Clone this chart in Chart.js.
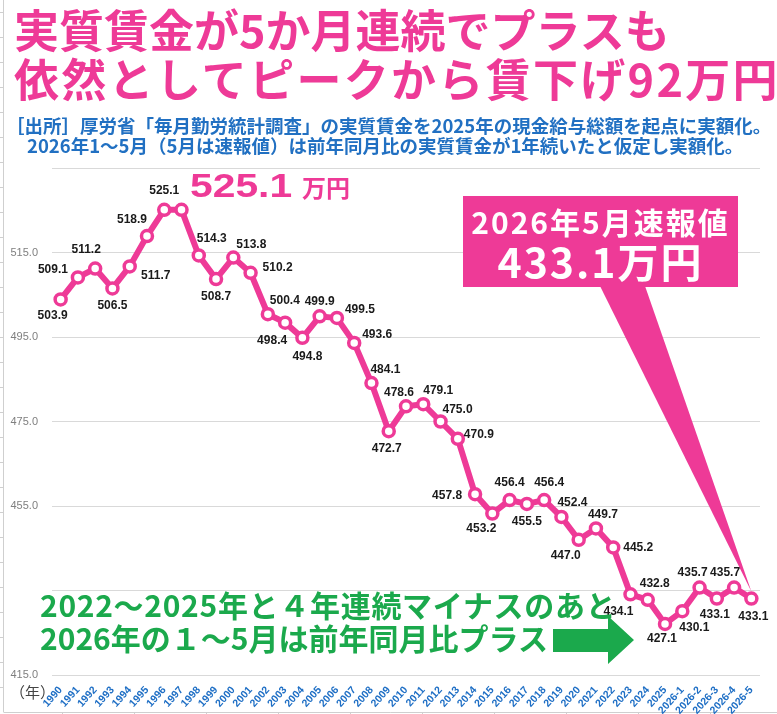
<!DOCTYPE html>
<html lang="ja">
<head>
<meta charset="utf-8">
<title>実質賃金</title>
<script src="https://cdn.jsdelivr.net/npm/chart.js@4.4.1/dist/chart.umd.min.js"></script>
<style>
    body { margin: 0; background: #fff; }
    #wrap { position: relative; width: 777px; height: 714px; overflow: hidden; font-family: "Noto Sans CJK JP", sans-serif; }
    #wageChart { position: absolute; left: 0; top: 0; }
    .txt { position: absolute; white-space: nowrap; font-weight: bold; }
    .title { left: 14px; font-size: 45px; line-height: 45px; color: #ee3a97; }
    .source { font-size: 18.5px; line-height: 19px; color: #2170c2; }
    .peak { left: 190px; top: 168px; font-family: "Liberation Sans", Arial, sans-serif; font-size: 34px; line-height: 34px; color: #ee3a97; transform: scaleX(1.2); transform-origin: left center; }
    .peak-unit { left: 302px; top: 175px; font-size: 24px; line-height: 24px; color: #ee3a97; }
    .callout { left: 463px; width: 275px; text-align: center; color: #fff; }
    .note { left: 40px; font-size: 30px; line-height: 30px; color: #1ba94c; }
    .year-unit { left: 10px; top: 684px; font-size: 15px; line-height: 16px; color: #444; font-weight: normal; }
</style>
</head>
<body>
<div id="wrap">
    <canvas id="wageChart" width="777" height="714"></canvas>
    <div class="txt title" style="top:6px">実質賃金が5か月連続でプラスも</div>
    <div class="txt title" style="top:55px;letter-spacing:2.3px">依然としてピークから賃下げ92万円</div>
    <div class="txt source" style="left:6px;top:116px">［出所］厚労省「毎月勤労統計調査」の実質賃金を2025年の現金給与総額を起点に実額化。</div>
    <div class="txt source" style="left:27px;top:136px">2026年1～5月（5月は速報値）は前年同月比の実質賃金が1年続いたと仮定し実額化。</div>
    <div class="txt peak">525.1</div>
    <div class="txt peak-unit">万円</div>
    <div class="txt callout" style="top:204px;font-size:30px;line-height:34px;letter-spacing:2px">2026年5月速報値</div>
    <div class="txt callout" style="top:238px;font-size:41px;line-height:44px;letter-spacing:2px">433.1万円</div>
    <div class="txt note" style="top:589px;letter-spacing:0.7px">2022～2025年と４年連続マイナスのあと</div>
    <div class="txt note" style="top:622px">2026年の１～5月は前年同月比プラス</div>
    <div class="txt year-unit">（年）</div>
</div>
<script>
// categories
const years = [
    '1990', '1991', '1992', '1993', '1994', '1995', '1996', '1997', '1998', '1999',
    '2000', '2001', '2002', '2003', '2004', '2005', '2006', '2007', '2008', '2009',
    '2010', '2011', '2012', '2013', '2014', '2015', '2016', '2017', '2018', '2019',
    '2020', '2021', '2022', '2023', '2024', '2025',
    '2026-1', '2026-2', '2026-3', '2026-4', '2026-5'
];

// 実質賃金（万円）
const realWages = [
    503.9, 509.1, 511.2, 506.5, 511.7, 518.9, 525.1, 525.1, 514.3, 508.7,
    513.8, 510.2, 500.4, 498.4, 494.8, 499.9, 499.5, 493.6, 484.1, 472.7,
    478.6, 479.1, 475.0, 470.9, 457.8, 453.2, 456.4, 455.5, 456.4, 452.4,
    447.0, 449.7, 445.2, 434.1, 432.8, 427.1,
    430.1, 435.7, 433.1, 435.7, 433.1
];

// y axis
const yMin = 415;
const yMax = 535;
const yStep = 20;
const hiddenYLabels = [435, 535];

// where each value label sits, relative to its point (null = no label)
const labelOffsets = [
    [-8, 16], [-25, -8], [-9, -19], [0, 17], [26, 9], [-15, -16], [0, -19], null, [13, -17], [0, 18],
    [18, -13], [27, -5], [17, -13], [-13, 18], [5, 19], [0, -15], [23, -8], [23, -8], [14, -13], [-2, 17],
    [-7, -14], [15, -13], [17, -12], [21, -4], [-28, 2], [-11, 15], [0, -17], [0, 18], [5, -17], [11, -14],
    [-13, 16], [7, -14], [25, 0], [-12, 17], [7, -16], [-3, 15],
    [12, 16], [-7, -15], [-2, 16], [-9, -15], [2, 18]
];

const PINK = '#ee3a97';
const GREEN = '#1ba94c';

document.addEventListener('DOMContentLoaded', () => {
    Chart.defaults.font.family = "'Liberation Sans', Arial, sans-serif";

    // faint ruler frame on the left and bottom edges
    const rulerFrame = {
        id: 'rulerFrame',
        beforeDraw(chart) {
            const c = chart.ctx;
            c.save();
            c.strokeStyle = '#cfcfcf';
            c.lineWidth = 1;
            c.beginPath();
            c.moveTo(3.5, 0);
            c.lineTo(3.5, 712);
            c.moveTo(3.5, 712.5);
            c.lineTo(777, 712.5);
            for (let y = 12; y < 712; y += 25) {
                c.moveTo(0, y + 0.5);
                c.lineTo(3.5, y + 0.5);
            }
            for (let x = 62; x < 777; x += 72) {
                c.moveTo(x + 0.5, 712);
                c.lineTo(x + 0.5, 714);
            }
            c.stroke();
            c.restore();
        }
    };

    // pink callout box pointing at the latest value, plus the green arrow
    const annotations = {
        id: 'annotations',
        beforeDatasetsDraw(chart) {
            const c = chart.ctx;
            const pts = chart.getDatasetMeta(0).data;
            const last = pts[pts.length - 1];
            c.save();
            c.fillStyle = PINK;
            c.fillRect(463, 196, 275, 91);
            c.beginPath();
            c.moveTo(600, 286);
            c.lineTo(645, 286);
            c.lineTo(last.x, last.y - 7);
            c.closePath();
            c.fill();

            c.fillStyle = GREEN;
            c.beginPath();
            c.moveTo(553, 629);
            c.lineTo(608, 629);
            c.lineTo(608, 616);
            c.lineTo(634, 640);
            c.lineTo(608, 664);
            c.lineTo(608, 652);
            c.lineTo(553, 652);
            c.closePath();
            c.fill();
            c.restore();
        }
    };

    // value labels next to each point
    const valueLabels = {
        id: 'valueLabels',
        afterDatasetsDraw(chart) {
            const c = chart.ctx;
            const pts = chart.getDatasetMeta(0).data;
            c.save();
            c.font = "bold 12px 'Liberation Sans', Arial, sans-serif";
            c.fillStyle = '#1a1a1a';
            c.textAlign = 'center';
            c.textBaseline = 'middle';
            pts.forEach((p, i) => {
                const off = labelOffsets[i];
                if (!off) return;
                c.fillText(realWages[i].toFixed(1), p.x + off[0], p.y + off[1]);
            });
            c.restore();
        }
    };

    const ctx = document.getElementById('wageChart').getContext('2d');
    new Chart(ctx, {
        type: 'line',
        data: {
            labels: years,
            datasets: [{
                data: realWages,
                borderColor: PINK,
                borderWidth: 6,
                pointRadius: 5.5,
                pointBorderWidth: 3.5,
                pointBackgroundColor: '#fff',
                pointBorderColor: PINK,
                tension: 0,
                clip: false
            }]
        },
        options: {
            responsive: false,
            animation: false,
            devicePixelRatio: 1,
            layout: { padding: { top: 168, right: 17, left: 0, bottom: 0 } },
            plugins: {
                legend: { display: false },
                tooltip: { enabled: false }
            },
            scales: {
                x: {
                    offset: true,
                    grid: { display: false },
                    border: { display: false },
                    ticks: {
                        autoSkip: false,
                        minRotation: 48,
                        maxRotation: 48,
                        padding: 1,
                        color: '#1f6fc5',
                        font: { size: 10.5, weight: 'bold' }
                    },
                    afterFit: s => { s.height = 39; }
                },
                y: {
                    min: yMin,
                    max: yMax,
                    border: { display: false },
                    grid: { color: '#d9d9d9', drawTicks: false },
                    ticks: {
                        stepSize: yStep,
                        padding: 14,
                        color: '#7f7f7f',
                        font: { size: 11 },
                        callback: v => hiddenYLabels.includes(v) ? '' : v.toFixed(1)
                    },
                    afterFit: s => { s.width = 52; }
                }
            }
        },
        plugins: [rulerFrame, annotations, valueLabels]
    });
});
</script>
</body>
</html>
